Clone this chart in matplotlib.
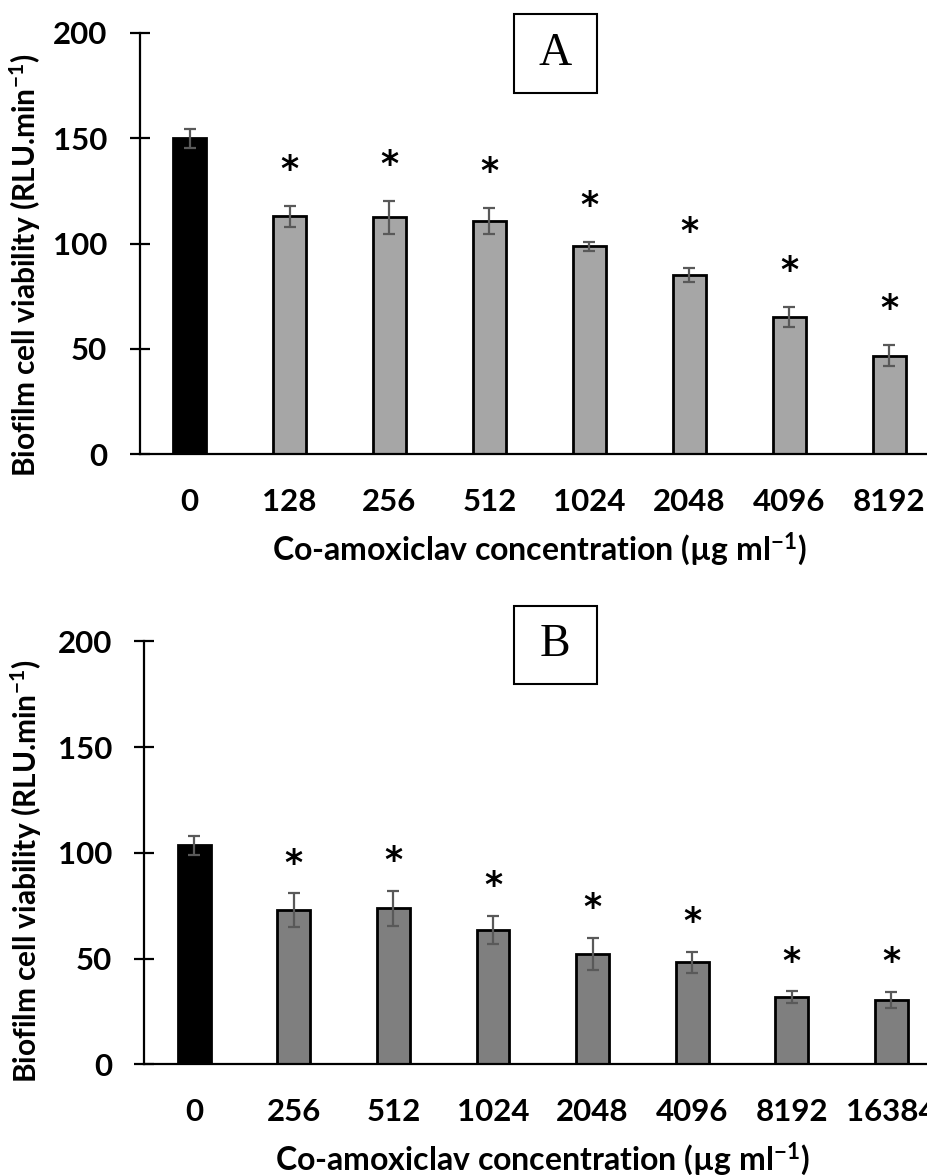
import matplotlib
matplotlib.use('Agg')
import matplotlib.pyplot as plt
from matplotlib.patches import Rectangle
import numpy as np

plt.rcParams['font.family'] = ['Lato', 'DejaVu Sans']
plt.rcParams['font.weight'] = 'bold'
plt.rcParams['axes.labelweight'] = 'bold'
plt.rcParams['mathtext.fontset'] = 'custom'
plt.rcParams['mathtext.rm'] = 'Lato:bold'
plt.rcParams['mathtext.it'] = 'Lato:bold'
plt.rcParams['mathtext.bf'] = 'Lato:bold'
plt.rcParams['mathtext.default'] = 'rm'

# Panel A data
conc_a = ['0', '128', '256', '512', '1024', '2048', '4096', '8192']
vals_a = [150.0, 113.0, 112.4, 110.7, 98.7, 85.1, 65.3, 46.8]
err_a = [4.5, 5.0, 7.8, 6.0, 2.2, 3.5, 4.7, 5.0]
sig_a = [False, True, True, True, True, True, True, True]

# Panel B data
conc_b = ['0', '256', '512', '1024', '2048', '4096', '8192', '16384']
vals_b = [103.5, 72.9, 73.7, 63.5, 52.1, 48.2, 31.7, 30.4]
err_b = [4.4, 7.9, 8.3, 6.8, 7.7, 5.1, 2.9, 3.9]
sig_b = [False, True, True, True, True, True, True, True]

W, H = 928, 1175
fig = plt.figure(figsize=(W / 100, H / 100), dpi=100)


def draw_panel(rect, labels, vals, errs, sig, bar_color, star_off, letter, box, ylab_xy):
    ax = fig.add_axes(rect)
    x = np.arange(len(labels))
    colors = ['black'] + [bar_color] * (len(labels) - 1)
    ax.bar(x, vals, width=0.33, color=colors, edgecolor='black', linewidth=2, zorder=2)
    ax.errorbar(x, vals, yerr=errs, fmt='none', ecolor='#595959', elinewidth=1.6,
                capsize=4.5, capthick=1.6, zorder=3)
    # significance stars above the error bars
    for xi, v, e, s in zip(x, vals, errs, sig):
        if s:
            ax.text(xi, v + e + star_off, '*', ha='center', va='center', fontsize=25,
                    fontweight='bold', family='DejaVu Sans')
    ax.set_xlim(-0.5, len(labels) - 0.5)
    ax.set_ylim(0, 200)
    ax.set_yticks([0, 50, 100, 150, 200])
    ax.set_xticks(x)
    ax.set_xticklabels(labels)
    ax.spines['top'].set_visible(False)
    ax.spines['right'].set_visible(False)
    ax.spines['left'].set_linewidth(1.6)
    ax.spines['bottom'].set_linewidth(1.6)
    ax.tick_params(axis='y', direction='inout', length=14.4, width=1.6, pad=16, labelsize=22.5)
    ax.tick_params(axis='x', length=0, pad=24, labelsize=22.5)
    ax.set_ylabel('Biofilm cell viability (RLU.min$^{-1}$)', fontsize=21.5)
    ax.yaxis.set_label_coords(*ylab_xy)
    ax.set_xlabel('Co-amoxiclav concentration (µg ml$^{-1}$)', fontsize=23, labelpad=11)
    # panel letter box
    cx, cy, bw, bh = box
    fig.add_artist(Rectangle(((cx - bw / 2) / W, 1 - (cy + bh / 2) / H), bw / W, bh / H,
                             transform=fig.transFigure, fill=False, edgecolor='black',
                             linewidth=1.5))
    fig.text(cx / W, 1 - cy / H, letter, ha='center', va='center', fontsize=33,
             family='Liberation Serif', fontweight='normal')
    return ax


draw_panel([139.5 / W, 1 - 454.3 / H, 800 / W, 421.6 / H], conc_a, vals_a, err_a, sig_a,
           '#A6A6A6', 17, 'A', (555.5, 53.3, 83, 79), (-0.121, 0.448))
draw_panel([144.3 / W, 1 - 1064.3 / H, 797 / W, 423 / H], conc_b, vals_b, err_b, sig_b,
           '#7F7F7F', 14, 'B', (555.3, 644.5, 83, 78), (-0.126, 0.455))

fig.savefig('out.png', dpi=100)
